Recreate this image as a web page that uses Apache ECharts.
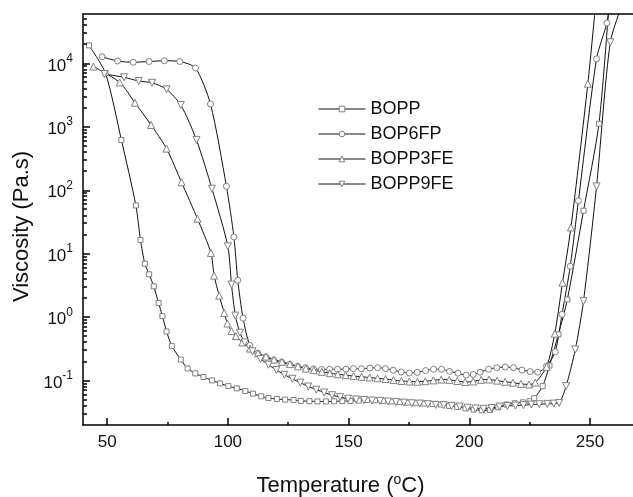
<!DOCTYPE html>
<html><head><meta charset="utf-8">
<script src="https://cdn.jsdelivr.net/npm/echarts@6/dist/echarts.min.js"></script>
<style>html,body{margin:0;padding:0;background:#fff}#c{width:633px;height:497px}</style>
</head><body><div id="c"></div>
<script>
// ---- data ----
const seriesNames = ['BOPP', 'BOP6FP', 'BOPP3FE', 'BOPP9FE'];

const boppT = [42.5, 49.3, 55.9, 61.9, 63.8, 65.6, 67.4, 69.3, 71.3, 72.9, 74.6, 76.8, 80.5, 83.3, 86.5, 89.9, 93.4, 96.8, 100.2, 103.7, 107.2, 110.4, 113.8, 116.8, 120.3, 123.7, 127.2, 130.2, 133.8, 137.1, 140.6, 144.0, 147.4, 150.8, 154.2, 157.6, 161.0, 164.4, 167.8, 171.2, 174.6, 178.0, 181.4, 184.8, 188.2, 191.6, 195.0, 198.4, 201.8, 205.2, 208.6, 212.0, 215.4, 218.8, 222.2, 225.0, 226.9, 230.4, 233.2, 236.9, 240.6, 247.3, 253.7, 258.0];
const boppV = [19200, 7000, 622, 57.7, 16.5, 6.98, 4.74, 3.07, 1.68, 1.04, 0.596, 0.35, 0.215, 0.156, 0.130, 0.114, 0.101, 0.0906, 0.082, 0.0757, 0.0687, 0.0625, 0.0566, 0.0532, 0.0514, 0.0502, 0.0495, 0.0480, 0.0475, 0.0470, 0.0470, 0.0472, 0.0475, 0.0478, 0.0485, 0.0495, 0.0490, 0.0480, 0.0470, 0.0458, 0.0450, 0.0440, 0.0435, 0.0430, 0.0420, 0.0400, 0.0385, 0.0365, 0.0350, 0.0340, 0.0345, 0.0380, 0.0420, 0.0440, 0.0455, 0.0475, 0.053, 0.082, 0.173, 0.537, 1.90, 47.7, 1120, 100000];

const bop6fpT = [47.9, 54.3, 60.8, 67.4, 73.7, 80.1, 86.6, 92.8, 99.4, 102.5, 104.1, 106.3, 109.1, 112.4, 115.7, 119.0, 122.3, 125.6, 128.9, 132.2, 135.5, 138.8, 142.1, 145.4, 148.9, 152.0, 155.3, 158.8, 162.0, 165.3, 168.5, 171.8, 175.2, 178.4, 181.9, 185.2, 188.5, 191.8, 195.3, 198.7, 201.6, 204.5, 208.0, 211.4, 214.9, 218.3, 221.8, 225.2, 228.3, 232.0, 235.6, 238.4, 241.8, 245.2, 252.7, 257.0, 258.5];
const bop6fpV = [12700, 10900, 10400, 10700, 11000, 10700, 8440, 2290, 116, 18.4, 3.82, 0.964, 0.36, 0.27, 0.235, 0.21, 0.195, 0.18, 0.168, 0.16, 0.153, 0.15, 0.151, 0.151, 0.152, 0.155, 0.154, 0.158, 0.160, 0.155, 0.146, 0.137, 0.132, 0.135, 0.144, 0.151, 0.151, 0.140, 0.131, 0.122, 0.125, 0.136, 0.151, 0.160, 0.164, 0.160, 0.147, 0.139, 0.136, 0.17, 0.286, 1.11, 6.35, 68.4, 11800, 43400, 100000];

const bopp3feT = [44.3, 55.2, 61.5, 68.2, 74.6, 80.8, 87.4, 93.0, 94.3, 96.4, 98.5, 99.8, 101.5, 103.3, 106.0, 109.2, 112.5, 115.8, 119.1, 122.4, 125.7, 129.0, 132.3, 135.6, 138.9, 142.2, 145.5, 148.8, 152.1, 155.4, 158.7, 162.0, 165.3, 168.6, 171.9, 175.2, 178.5, 181.8, 185.1, 188.4, 191.7, 195.0, 198.3, 201.6, 204.9, 208.2, 211.5, 214.8, 218.1, 221.4, 224.7, 227.3, 232.0, 235.4, 238.6, 242.1, 249.1, 252.5];
const bopp3feV = [8910, 5020, 2400, 1070, 454, 134, 35.6, 10.3, 4.53, 2.19, 1.17, 0.796, 0.603, 0.503, 0.40, 0.32, 0.27, 0.24, 0.215, 0.198, 0.182, 0.168, 0.155, 0.146, 0.138, 0.131, 0.126, 0.122, 0.118, 0.115, 0.112, 0.109, 0.106, 0.102, 0.099, 0.097, 0.096, 0.098, 0.101, 0.104, 0.103, 0.099, 0.095, 0.097, 0.103, 0.104, 0.100, 0.096, 0.093, 0.089, 0.087, 0.093, 0.165, 0.55, 3.5, 26, 4780, 100000];

const bopp9feT = [48.9, 57.0, 63.1, 68.6, 74.6, 80.5, 87.0, 93.4, 100.0, 101.5, 103.1, 105.0, 107.0, 110.2, 113.5, 116.8, 120.1, 123.4, 126.7, 130.0, 133.3, 136.6, 139.9, 143.2, 146.5, 149.8, 153.1, 156.4, 159.7, 163.0, 166.3, 169.6, 172.9, 176.2, 179.5, 182.8, 186.1, 189.4, 192.7, 196.0, 199.3, 202.6, 205.9, 209.2, 212.5, 215.8, 219.1, 222.4, 225.7, 229.0, 232.3, 235.0, 237.2, 240.1, 243.9, 247.3, 252.7, 258.4, 264.0];
const bopp9feV = [6800, 6030, 5270, 4950, 3900, 2210, 622, 106, 13.1, 3.27, 1.06, 0.57, 0.40, 0.29, 0.22, 0.178, 0.147, 0.124, 0.107, 0.093, 0.081, 0.072, 0.065, 0.059, 0.055, 0.052, 0.0505, 0.0495, 0.0485, 0.048, 0.047, 0.046, 0.045, 0.044, 0.0435, 0.0425, 0.0415, 0.041, 0.040, 0.039, 0.0375, 0.0365, 0.036, 0.037, 0.039, 0.040, 0.0405, 0.041, 0.042, 0.0425, 0.043, 0.0435, 0.0445, 0.082, 0.31, 1.79, 115, 21500, 100000];

// axis ticks
const xMajorTicks = [50, 100, 150, 200, 250];
const xMinorTicks = [75, 125, 175, 225];
const yMinorTicks = [0.03,0.04,0.05,0.06,0.07,0.08,0.09, 0.2,0.3,0.4,0.5,0.6,0.7,0.8,0.9, 2,3,4,5,6,7,8,9, 20,30,40,50,60,70,80,90, 200,300,400,500,600,700,800,900, 2000,3000,4000,5000,6000,7000,8000,9000, 20000,30000,40000,50000];

// ---- chart ----
const FONT = '"Liberation Sans", Arial, Helvetica, sans-serif';
const X_MIN = 40, X_MAX = 267.8, Y_MIN = 0.02, Y_MAX = 60000;
const AXIS_W = 1.5;
const zip = (a, b) => a.map((t, i) => [t, b[i]]);
const symbols = ['rect', 'circle', 'triangle', 'path://M0,0L20,0L10,17.3Z'];
const sizes = [5, 6, 7, 7];
const tsets = [[boppT, boppV], [bop6fpT, bop6fpV], [bopp3feT, bopp3feV], [bopp9feT, bopp9feV]];

// minor tick marks drawn through the axes' own scales
function tickSeries(data, horizontal, len) {
  return {
    type: 'custom', xAxisIndex: 0, yAxisIndex: 0, silent: true, clip: false, z: 5,
    data: data,
    renderItem: (params, api) => {
      const p = api.coord([api.value(0), api.value(1)]);
      const x = Math.round(p[0]), y = Math.round(p[1]);
      return {
        type: 'line',
        shape: horizontal ? {x1: x, y1: y, x2: x + len, y2: y} : {x1: x, y1: y, x2: x, y2: y - len},
        style: {stroke: '#000', lineWidth: AXIS_W}
      };
    }
  };
}

const chart = echarts.init(document.getElementById('c'), null, {renderer: 'canvas'});
chart.setOption({
  animation: false,
  backgroundColor: '#fff',
  textStyle: {fontFamily: FONT},
  grid: {left: 83, right: 0, top: 14, bottom: 72, show: false, containLabel: false, outerBoundsMode: 'none'},
  legend: {
    orient: 'vertical', left: 318, top: 100, padding: 0,
    itemWidth: 47, itemHeight: 7, itemGap: 7,
    itemStyle: {color: '#fff', borderColor: '#808080', borderWidth: 1},
    lineStyle: {color: '#111', width: 1},
    textStyle: {fontSize: 18, color: '#111', fontFamily: FONT},
    data: seriesNames
  },
  xAxis: [{
    type: 'value', min: X_MIN, max: X_MAX, position: 'bottom',
    axisLine: {onZero: false, lineStyle: {color: '#000', width: AXIS_W}},
    axisTick: {inside: true, length: 7, customValues: xMajorTicks, lineStyle: {color: '#000', width: AXIS_W}},
    axisLabel: {customValues: xMajorTicks, fontSize: 17, color: '#111', margin: 9, fontFamily: FONT},
    splitLine: {show: false},
    name: 'Temperature ({s|o}C)', nameLocation: 'middle', nameGap: 48,
    nameTextStyle: {fontSize: 22, lineHeight: 26, color: '#111', fontFamily: FONT, padding: [0, 35, 0, 0],
      rich: {s: {fontSize: 14, lineHeight: 14, verticalAlign: 'top', color: '#111', fontFamily: FONT}}}
  }, {
    type: 'value', min: X_MIN, max: X_MAX, position: 'top',
    axisLine: {show: true, onZero: false, lineStyle: {color: '#000', width: AXIS_W}},
    axisTick: {show: false}, axisLabel: {show: false}, splitLine: {show: false}
  }],
  yAxis: [{
    type: 'log', logBase: 10, min: Y_MIN, max: Y_MAX, position: 'left',
    axisLine: {show: true, onZero: false, lineStyle: {color: '#000', width: AXIS_W}},
    axisTick: {show: true, inside: true, length: 7, lineStyle: {color: '#000', width: AXIS_W}},
    axisLabel: {
      showMinLabel: false, showMaxLabel: false, margin: 10, color: '#111',
      formatter: v => '{b|10}{s|' + Math.round(Math.log10(v)) + '}',
      rich: {b: {fontSize: 17, padding: [5, 0, 0, 0], color: '#111', fontFamily: FONT},
             s: {fontSize: 12, verticalAlign: 'top', color: '#111', fontFamily: FONT}}
    },
    splitLine: {show: false}, minorTick: {show: false},
    name: 'Viscosity (Pa.s)', nameLocation: 'middle', nameGap: 47,
    nameTextStyle: {fontSize: 22, color: '#111', fontFamily: FONT, padding: [0, 14, 0, 0]}
  }],
  series: seriesNames.map((n, i) => ({
    name: n, type: 'line', xAxisIndex: 0, yAxisIndex: 0,
    data: zip(tsets[i][0], tsets[i][1]),
    symbol: symbols[i], symbolSize: sizes[i], showSymbol: true,
    smooth: 0.25, clip: true,
    lineStyle: {color: '#111', width: 1},
    itemStyle: {color: '#fff', borderColor: '#808080', borderWidth: 1},
    emphasis: {disabled: true}
  })).concat([
    tickSeries(yMinorTicks.map(v => [X_MIN, v]), true, 4),
    tickSeries(xMinorTicks.map(t => [t, Y_MIN]), false, 3)
  ])
});
</script></body></html>
